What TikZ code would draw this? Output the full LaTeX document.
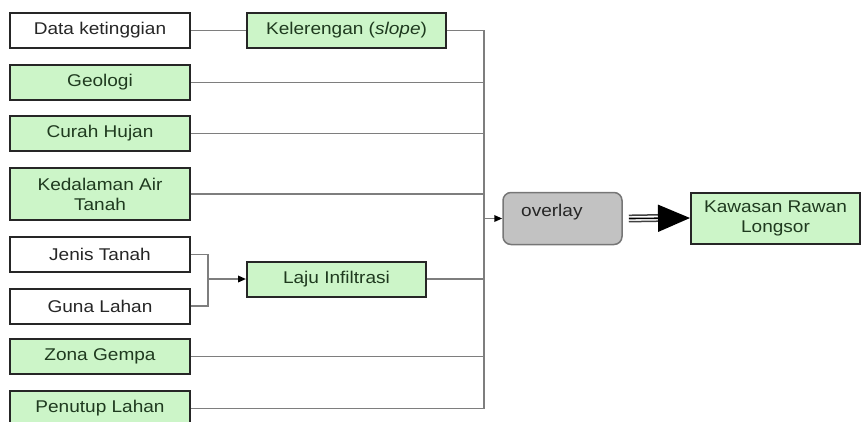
\documentclass[tikz,border=0pt]{standalone}
\usepackage{fontspec}
\setmainfont{Liberation Sans}[FakeStretch=1.12]
\usetikzlibrary{arrows.meta}
\definecolor{boxgreen}{HTML}{CCF5C8}
\definecolor{txtgreen}{HTML}{1F3A1F}
\definecolor{txtdark}{HTML}{262626}
\definecolor{linegray}{HTML}{7E7E7E}
\definecolor{ovfill}{HTML}{C2C2C2}
\definecolor{ovborder}{HTML}{767676}
\tikzset{
  inbox/.style={draw=black!85, line width=2pt, minimum height=35pt, inner sep=2pt,
    font=\fontsize{17}{20}\selectfont, align=center, anchor=center},
  whitebox/.style={inbox, fill=white, text=txtdark},
  greenbox/.style={inbox, fill=boxgreen, text=txtgreen},
  ovbox/.style={draw=ovborder, line width=1.5pt, fill=ovfill, rounded corners=8pt,
    minimum width=119pt, minimum height=52pt},
  conn/.style={draw=linegray, line width=1.8pt},
  smallarrow/.style={conn, -{Triangle[length=8pt,width=6.5pt]}, arrows={[color=black]}},
}
\begin{document}
\begin{tikzpicture}[x=1pt,y=-1pt]
\useasboundingbox (0,0) rectangle (861,421);
% left column
\node[whitebox, minimum width=180pt] (dk) at (100,30.5) {Data ketinggian};
\node[greenbox, minimum width=199pt] (kel) at (346.5,30.5) {Kelerengan (\textit{slope})};
\node[greenbox, minimum width=180pt] (geo) at (100,82.5) {Geologi};
\node[greenbox, minimum width=180pt] (ch) at (100,133.5) {Curah Hujan};
\node[greenbox, minimum width=180pt, minimum height=52pt] (kat) at (100,194) {Kedalaman Air\\Tanah};
\node[whitebox, minimum width=180pt] (jt) at (100,254.5) {Jenis Tanah};
\node[whitebox, minimum width=180pt] (gl) at (100,306) {Guna Lahan};
\node[greenbox, minimum width=179pt] (li) at (336.5,279) {Laju Infiltrasi};
\node[greenbox, minimum width=180pt] (zg) at (100,356.5) {Zona Gempa};
\node[greenbox, minimum width=180pt] (pl) at (100,408.5) {Penutup Lahan};
% right
\node[ovbox] (ov) at (562.5,218.5) {};
\node[anchor=west, text=txtdark, font=\fontsize{17}{20}\selectfont, inner sep=0pt] (ovt) at (521,212) {overlay};
\node[greenbox, minimum width=169pt, minimum height=51pt] (kr) at (775.5,218) {Kawasan Rawan\\Longsor};
% bus
\coordinate (bt) at (484,30.5);
\coordinate (bb) at (484,408.5);
\coordinate (bm) at (484,218.5);
\draw[conn] (dk.east) -- (kel.west);
\draw[conn] (kel.east) -| (bb);
\draw[conn] (geo.east) -- (geo.east -| bt);
\draw[conn] (ch.east) -- (ch.east -| bt);
\draw[conn] (kat.east) -- (kat.east -| bt);
\draw[conn] (li.east) -- (li.east -| bt);
\draw[conn] (zg.east) -- (zg.east -| bt);
\draw[conn] (pl.east) -- (bb);
\draw[smallarrow] (bm) -- (ov.west);
% jenis/guna merge
\coordinate (jm) at (208,279);
\draw[conn] (jt.east) -| (jm) |- (gl.east);
\draw[smallarrow] (jm) -- (li.west);
% triple arrow
\draw[line width=1.5pt, black!75] ([xshift=6pt,yshift=3.2pt]ov.east) -- ([xshift=-31pt,yshift=3.2pt]kr.west);
\draw[line width=1.5pt, black!75] ([xshift=6pt,yshift=-3.2pt]ov.east) -- ([xshift=-31pt,yshift=-3.2pt]kr.west);
\draw[line width=1.6pt, black, -{Triangle[length=32pt,width=27pt]}] ([xshift=6pt]ov.east) -- (kr.west);
\end{tikzpicture}
\end{document}
